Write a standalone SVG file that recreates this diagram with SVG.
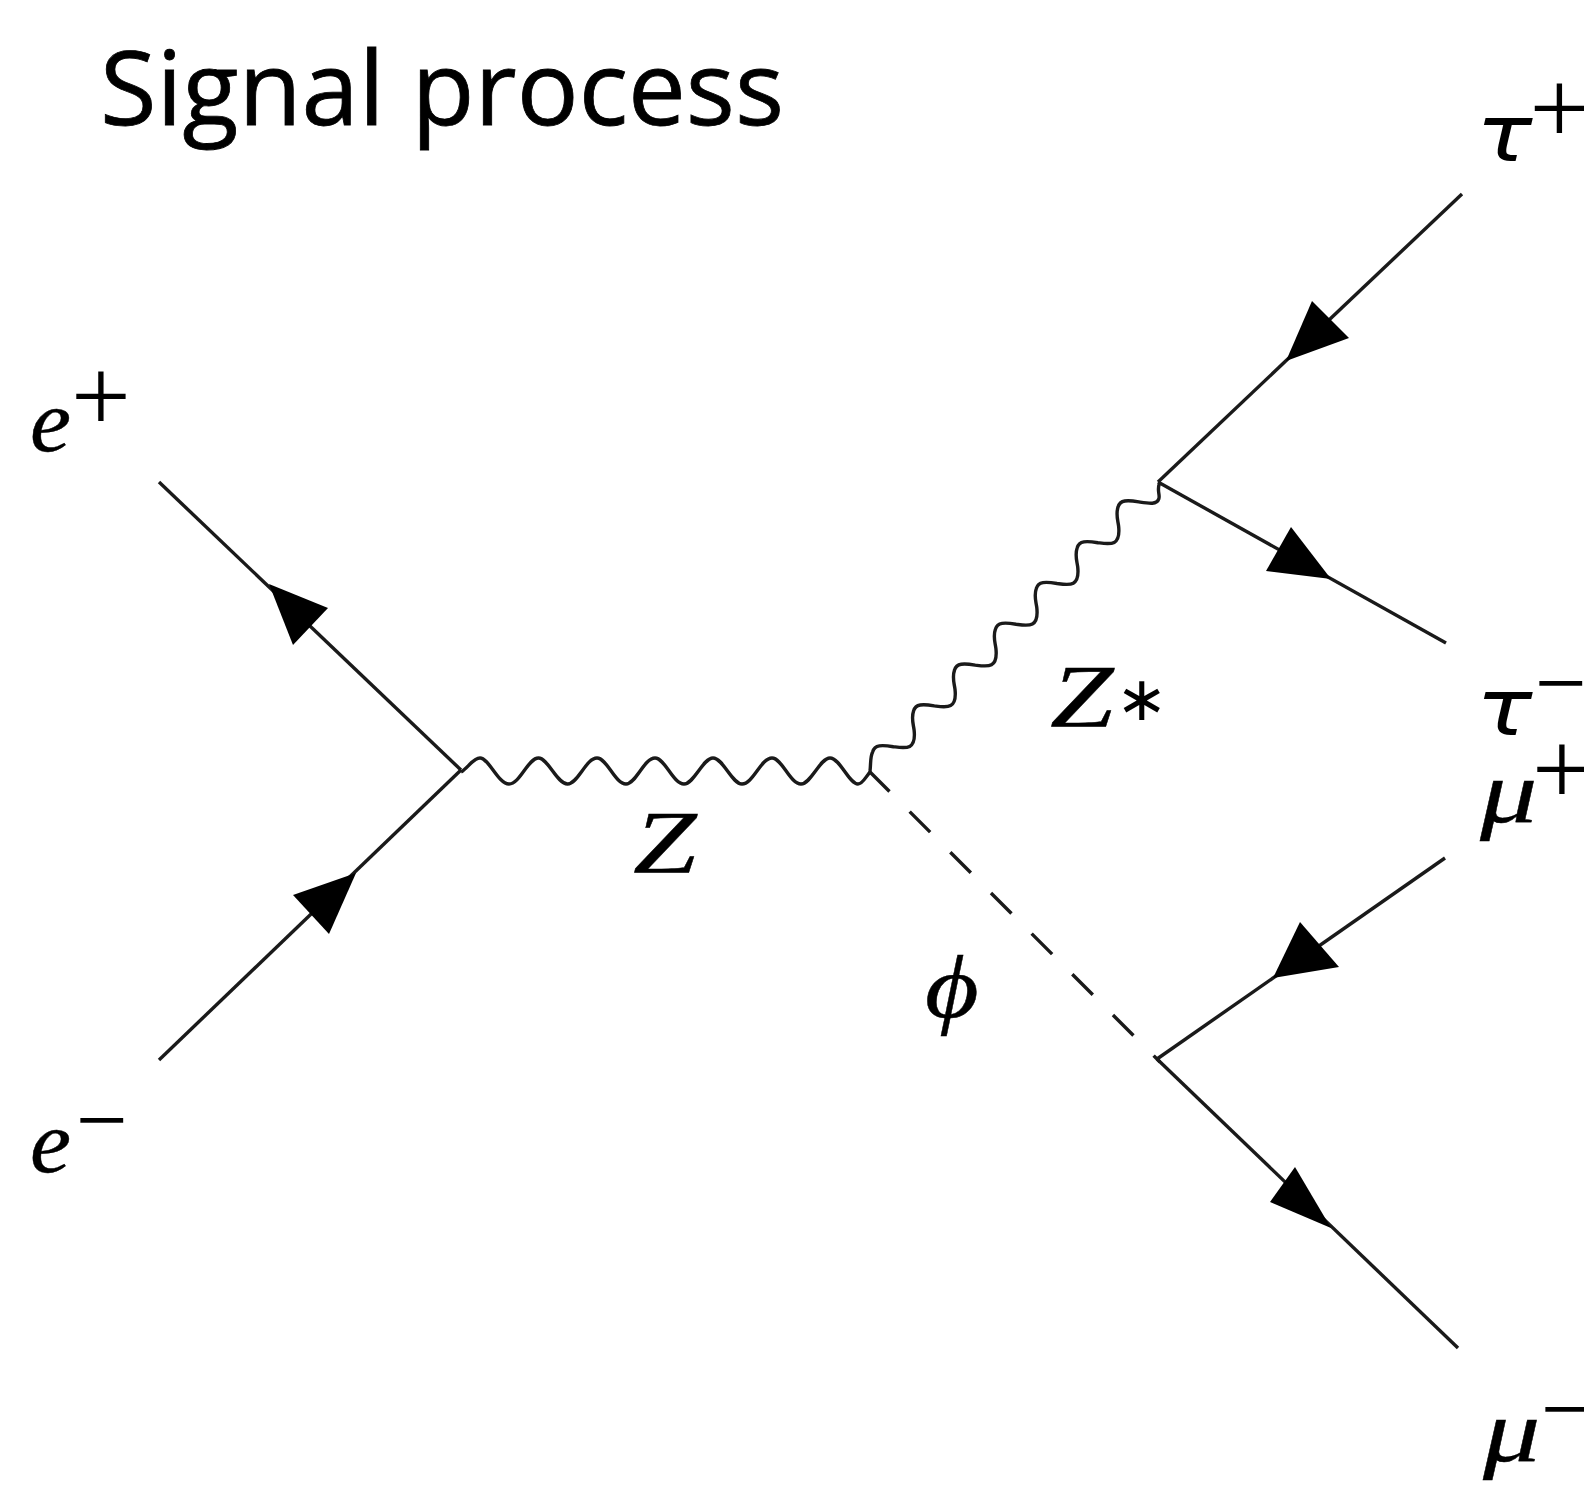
<svg xmlns="http://www.w3.org/2000/svg" width="1584" height="1485" viewBox="0 0 1584 1485">
<style>
.l{fill:none;stroke:#1a1a1a;stroke-width:3.4}
.a{fill:#000;stroke:none}
.m{font-family:"Liberation Serif",serif;font-style:italic;fill:#000;stroke:#000;stroke-width:.4;font-size:88px}
.g{font-family:"DejaVu Sans",sans-serif;font-style:italic;fill:#000;font-size:78px}
.s{font-family:"Liberation Serif",serif;fill:#000;font-size:106px}
.n{font-family:"Liberation Serif",serif;fill:#000;font-size:92px}
.t{font-family:"Open Sans",sans-serif;fill:#000;font-size:103px;stroke:#000;stroke-width:.8}
</style>
<rect width="1584" height="1485" fill="#fff"/>
<g id="connectors">
<path class="l" d="M159 482L461 770"/>
<path class="l" d="M159 1060L461 770"/>
<path class="l" d="M461 772C468 768 473 758 480 758C489 758 498 784 509 784C520 784 528 758 538.500 758C548 758 557 784 567.500 784C578 784 586 758 597 758C607 758 615 784 626 784C636 784 644 758 655 758C665 758 673 784 684 784C694 784 703 758 713 758C723 758 732 784 742 784C753 784 761 758 772 758C782 758 790 784 801 784C811 784 820 758 830 758C840 758 849 784 858 784C863 784 866 776 871 771"/>
<path class="l" d="M870 771C871 763 870 757 872.700 751.700c2 -7 9 -7 20.700 -5c12 1.500 23 4 20.700 -16.700c-1 -7 -3 -12 -.5 -19.100c2 -7 9 -7 20.700 -5c12 1.500 23 4 20.700 -16.700c-1 -7 -3 -12 -.5 -19.100c2 -7 9 -7 20.700 -5c12 1.500 23 4 20.700 -16.700c-1 -7 -3 -12 -.5 -19.100c2 -7 9 -7 20.700 -5c12 1.500 23 4 20.700 -16.700c-1 -7 -3 -12 -.5 -19.100c2 -7 9 -7 20.700 -5c12 1.500 23 4 20.700 -16.700c-1 -7 -3 -12 -.5 -19.100c2 -7 9 -7 20.700 -5c12 1.500 23 4 20.700 -16.700c-1 -7 -3 -12 -.5 -19.100c2 -7 9 -7 20.700 -5c10 1.500 18 3 20 -3c1.500 -4 -2 -8 .5 -15"/>
<path class="l" stroke-dasharray="29 28.500" d="M869 771L1160 1062"/>
<path class="l" d="M1462 194L1158 482"/>
<path class="l" d="M1158 482L1446 643"/>
<path class="l" d="M1445 858L1157 1059"/>
<path class="l" d="M1157 1059L1458 1348"/>
<polygon class="a" points="269,584 293,645 328,608"/>
<polygon class="a" points="356,873 293,895 329,934"/>
<polygon class="a" points="1286,361 1312,301 1349,338"/>
<polygon class="a" points="1331,579 1291,527 1266,571"/>
<polygon class="a" points="1273,978 1300,922 1339,967"/>
<polygon class="a" points="1331,1228 1295,1167 1270,1202"/>
</g>
<g id="title"><text class="t" x="100" y="125">Signal process</text></g>
<g id="e-plus"><text class="m" transform="translate(30 451) scale(1.05 1)">e</text><text class="s" x="71" y="432">+</text></g>
<g id="e-minus"><text class="m" transform="translate(30 1172) scale(1.05 1)">e</text><text class="n" x="76" y="1151">−</text></g>
<g id="z"><text class="m" transform="translate(633 872) scale(1.3 1)">Z</text></g>
<g id="z-star"><text class="m" transform="translate(1050 726) scale(1.3 1)">Z</text><text x="1116" y="720" font-family="DejaVu Sans" font-size="62">∗</text></g>
<g id="phi"><text class="m" transform="translate(925 1017) scale(1.18 1)">ϕ</text></g>
<g id="tau-plus"><text class="g" transform="translate(1476 161) scale(1.2 1)">τ</text><text class="s" x="1529.500" y="144">+</text></g>
<g id="tau-minus"><text class="g" transform="translate(1476 735) scale(1.2 1)">τ</text><text class="n" x="1535" y="714">−</text></g>
<g id="mu-plus"><text class="m" transform="translate(1480 822) scale(1.3 1)">μ</text><text class="s" x="1532" y="805">+</text></g>
<g id="mu-minus"><text class="m" transform="translate(1483 1461) scale(1.3 1)">μ</text><text class="n" x="1541" y="1440">−</text></g>
</svg>
